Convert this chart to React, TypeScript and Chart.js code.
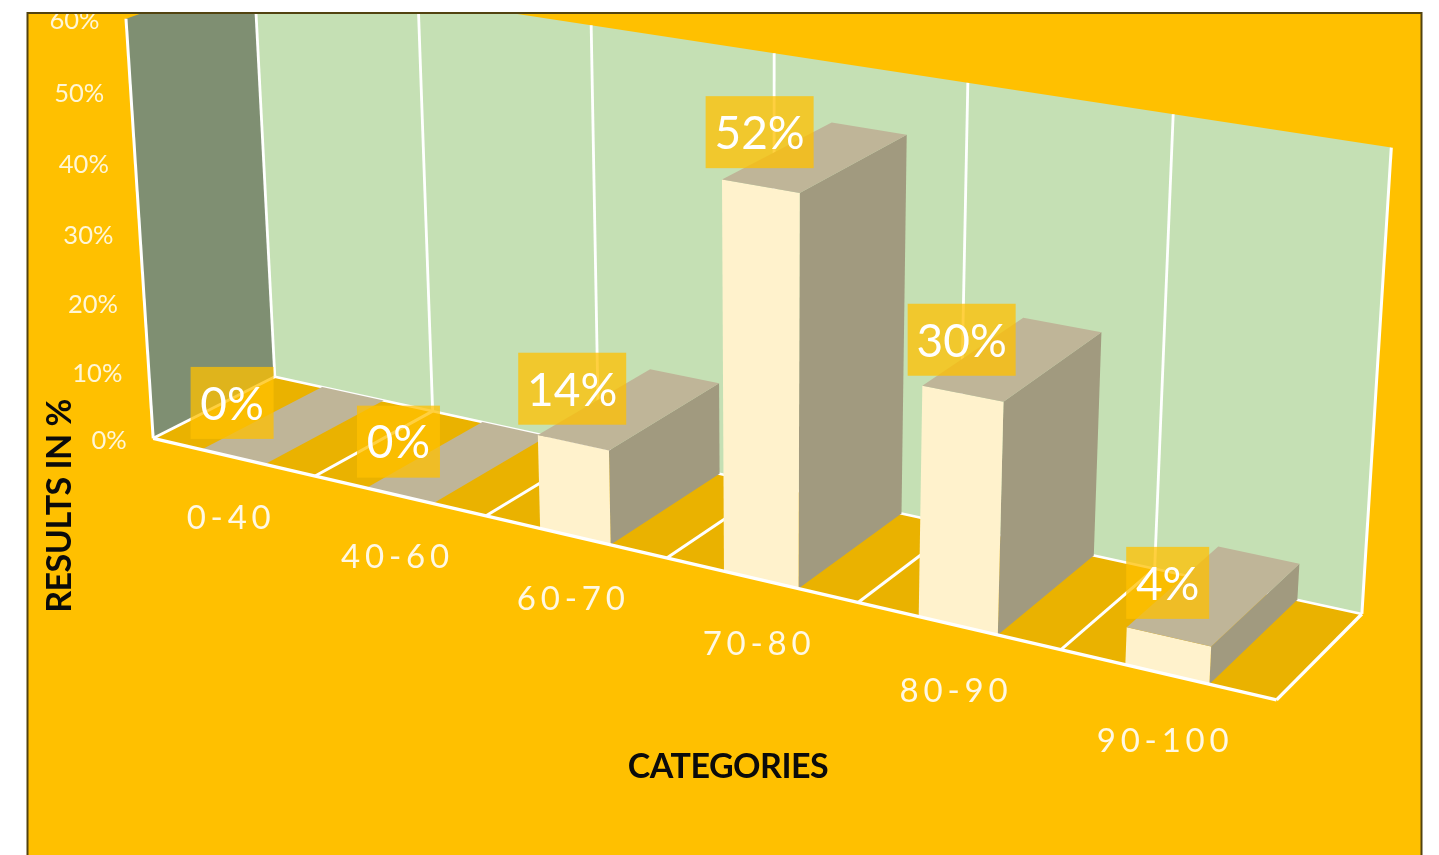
import React, { useEffect, useRef } from "react";
import { Chart, registerables } from "chart.js";

Chart.register(...registerables);

const categories = ["0-40", "40-60", "60-70", "70-80", "80-90", "90-100"];
// Heights as measured on the bars; the printed labels are kept separately
const barHeights = [0, 0, 13.1, 52, 30.4, 4.9];
const barLabels = ["0%", "0%", "14%", "52%", "30%", "4%"];
const valueMax = 60;
const valueStep = 10;
const xTitle = "CATEGORIES";
const yTitle = "RESULTS IN %";

// Camera calibration: unit-cube corners of the plot box (u along categories, v up, w into depth) -> screen
const cameraFit: number[][] = [
  [0, 0, 0, 152.7, 437.7], [1, 0, 0, 1276, 700], [1, 0, 1, 1362, 614], [0, 0, 1, 274.3, 376.7],
  [1, 1, 1, 1392, 148], [0, 1, 0, 126, 18.3], [0, 1, 1, 255, -26],
  [5 / 6, 1, 1, 1173, 113], [4 / 6, 1, 1, 967, 84], [3 / 6, 1, 1, 774, 53], [2 / 6, 1, 1, 591, 25],
  [1 / 6, 0, 0, 316, 476], [2 / 6, 0, 0, 487, 516], [3 / 6, 0, 0, 667, 558], [4 / 6, 0, 0, 858, 602], [5 / 6, 0, 0, 1061, 650],
  [0, 0.5, 0, 139, 234],
];

const COLORS = {
  page: "#FFC000", frame: "#524310", backWall: "#C5E0B4", sideWall: "#7F8F72", floor: "#EAB200",
  front: "#FFF2CC", top: "#BFB598", side: "#A19A7F", label: "rgba(255,192,0,0.75)",
};
const FONT = "Lato, 'Open Sans', sans-serif";
const FRAME = { l: 27.5, t: 13, r: 1421.5, b: 870 };

function solveCamera(rows: number[][]): number[] {
  const A: number[][] = [];
  const B: number[] = [];
  for (const [u, v, w, X0, Y0] of rows) {
    const X = X0 / 1000, Y = Y0 / 1000;
    A.push([u, v, w, 1, 0, 0, 0, 0, -X * u, -X * v, -X * w]); B.push(X);
    A.push([0, 0, 0, 0, u, v, w, 1, -Y * u, -Y * v, -Y * w]); B.push(Y);
  }
  const n = 11;
  const M: number[][] = Array.from({ length: n }, () => new Array(n + 1).fill(0));
  A.forEach((r, k) => {
    for (let i = 0; i < n; i++) {
      for (let j = 0; j < n; j++) M[i][j] += r[i] * r[j];
      M[i][n] += r[i] * B[k];
    }
  });
  for (let c = 0; c < n; c++) {
    let p = c;
    for (let r = c + 1; r < n; r++) if (Math.abs(M[r][c]) > Math.abs(M[p][c])) p = r;
    [M[c], M[p]] = [M[p], M[c]];
    for (let r = 0; r < n; r++) {
      if (r === c) continue;
      const f = M[r][c] / M[c][c];
      for (let j = c; j <= n; j++) M[r][j] -= f * M[c][j];
    }
  }
  return M.map((r, i) => r[n] / r[i]);
}
const P = solveCamera(cameraFit);
function project(u: number, v: number, w: number): [number, number] {
  const d = P[8] * u + P[9] * v + P[10] * w + 1;
  return [
    (1000 * (P[0] * u + P[1] * v + P[2] * w + P[3])) / d,
    (1000 * (P[4] * u + P[5] * v + P[6] * w + P[7])) / d,
  ];
}

function poly(ctx: CanvasRenderingContext2D, pts: [number, number][], fill: string) {
  ctx.beginPath();
  pts.forEach((p, i) => (i ? ctx.lineTo(p[0], p[1]) : ctx.moveTo(p[0], p[1])));
  ctx.closePath();
  ctx.fillStyle = fill;
  ctx.fill();
}
function seg(ctx: CanvasRenderingContext2D, a: [number, number], b: [number, number], width: number) {
  ctx.beginPath();
  ctx.moveTo(a[0], a[1]);
  ctx.lineTo(b[0], b[1]);
  ctx.lineWidth = width;
  ctx.strokeStyle = "#FFFFFF";
  ctx.stroke();
}

const box3d = {
  id: "box3d",
  beforeDatasetsDraw(chart: any) {
    const { ctx, chartArea: area, scales } = chart;
    const xs = scales.x, ys = scales.y;
    const toU = (px: number) => (px - area.left) / area.width;
    const toV = (py: number) => (area.bottom - py) / area.height;
    const band = area.width / categories.length;
    const bars = chart.getDatasetMeta(0).data;

    ctx.save();
    ctx.fillStyle = COLORS.page;
    ctx.fillRect(FRAME.l, FRAME.t, FRAME.r - FRAME.l, FRAME.b - FRAME.t);
    ctx.beginPath();
    ctx.rect(FRAME.l, FRAME.t, FRAME.r - FRAME.l, FRAME.b - FRAME.t);
    ctx.clip();

    // walls and floor
    poly(ctx, [project(0, 0, 0), project(0, 0, 1), project(0, 1, 1), project(0, 1, 0)], COLORS.sideWall);
    poly(ctx, [project(0, 0, 1), project(1, 0, 1), project(1, 1, 1), project(0, 1, 1)], COLORS.backWall);
    poly(ctx, [project(0, 0, 0), project(1, 0, 0), project(1, 0, 1), project(0, 0, 1)], COLORS.floor);

    // category gridlines on wall and floor
    categories.forEach((_, i) => {
      const u = toU(xs.getPixelForValue(i) - band / 2);
      seg(ctx, project(u, 0, 1), project(u, 1, 1), 2.8);
      if (i > 0) seg(ctx, project(u, 0, 0), project(u, 0, 1), 3);
    });
    seg(ctx, project(1, 0, 1), project(1, 1, 1), 3);
    seg(ctx, project(0, 0, 0), project(0, 1, 0), 3);
    seg(ctx, project(0, 0, 0), project(0, 0, 1), 2.8);
    seg(ctx, project(0, 0, 1), project(1, 0, 1), 2.6);
    seg(ctx, project(1, 0, 0), project(1, 0, 1), 3.4);

    // 3D bars, left to right
    bars.forEach((el: any) => {
      const u0 = toU(el.x - el.width / 2), u1 = toU(el.x + el.width / 2);
      const v0 = toV(el.base), v1 = toV(el.y);
      poly(ctx, [project(u1, v0, 0), project(u1, v0, 1), project(u1, v1, 1), project(u1, v1, 0)], COLORS.side);
      poly(ctx, [project(u0, v0, 0), project(u1, v0, 0), project(u1, v1, 0), project(u0, v1, 0)], COLORS.front);
      poly(ctx, [project(u0, v1, 0), project(u1, v1, 0), project(u1, v1, 1), project(u0, v1, 1)], COLORS.top);
    });
    seg(ctx, project(0, 0, 0), project(1, 0, 0), 3.4);

    // value tick labels
    ctx.textBaseline = "middle";
    ctx.textAlign = "right";
    ctx.fillStyle = "#FFF6D6";
    ctx.font = `25.5px ${FONT}`;
    ys.ticks.forEach((t: any) => {
      const p = project(0, toV(ys.getPixelForValue(t.value)), 0);
      ctx.fillText(t.label, p[0] - 26.5, p[1] + 2.5);
    });

    // category labels
    ctx.textAlign = "center";
    ctx.fillStyle = "#FFF8E4";
    ctx.font = `33px ${FONT}`;
    (ctx as any).letterSpacing = "4.8px";
    categories.forEach((_, i) => {
      const p = project(toU(xs.getPixelForValue(i)), 0, 0);
      const drop = 61 + (p[0] - 234) * 0.0064;
      ctx.fillText(xs.getLabelForValue(i), p[0] - 2, p[1] + drop);
    });
    (ctx as any).letterSpacing = "0px";

    // data labels
    bars.forEach((el: any, i: number) => {
      const p = project(toU(el.x), toV(el.y), 0);
      const cy = p[1] - 54;
      const w = barLabels[i].length > 2 ? 108 : 83;
      const cx = p[0] - 1;
      ctx.fillStyle = COLORS.label;
      ctx.fillRect(cx - w / 2, cy - 36, w, 72);
      ctx.fillStyle = "#FFFFFF";
      ctx.font = `400 46px ${FONT}`;
      ctx.fillText(barLabels[i], cx, cy + 2);
    });

    // axis titles
    ctx.fillStyle = "#0B0B0B";
    ctx.font = `bold 34px ${FONT}`;
    (ctx as any).letterSpacing = "-0.5px";
    ctx.fillText(xTitle, 728, 767);
    ctx.save();
    ctx.translate(60, 506);
    ctx.rotate(-Math.PI / 2);
    ctx.fillText(yTitle, 0, 0);
    ctx.restore();
    (ctx as any).letterSpacing = "0px";
    ctx.restore();

    // frame, open at the page bottom
    ctx.save();
    ctx.strokeStyle = COLORS.frame;
    ctx.lineWidth = 2;
    ctx.strokeRect(FRAME.l, FRAME.t, FRAME.r - FRAME.l, FRAME.b - FRAME.t);
    ctx.restore();
  },
};

export default function App() {
  const ref = useRef<HTMLCanvasElement | null>(null);
  useEffect(() => {
    document.body.style.margin = "0";
    document.body.style.overflow = "hidden";
    const chart = new Chart(ref.current as HTMLCanvasElement, {
      type: "bar",
      data: {
        labels: categories,
        datasets: [{
          data: barHeights,
          backgroundColor: "transparent",
          borderWidth: 0,
          categoryPercentage: 1,
          barPercentage: 0.39,
        }],
      },
      options: {
        animation: false,
        responsive: false,
        layout: { padding: 0 },
        plugins: { legend: { display: false }, tooltip: { enabled: false } },
        scales: {
          x: { display: false },
          y: {
            display: false,
            min: 0,
            max: valueMax,
            ticks: { stepSize: valueStep, callback: (v: any) => `${v}%` },
          },
        },
      },
      plugins: [box3d],
    } as any);
    return () => chart.destroy();
  }, []);
  return (
    <div style={{ position: "fixed", left: 0, top: 0, width: 1439, height: 855, background: "#fff" }}>
      <canvas ref={ref} width={1439} height={855} style={{ display: "block", width: 1439, height: 855 }} />
    </div>
  );
}
